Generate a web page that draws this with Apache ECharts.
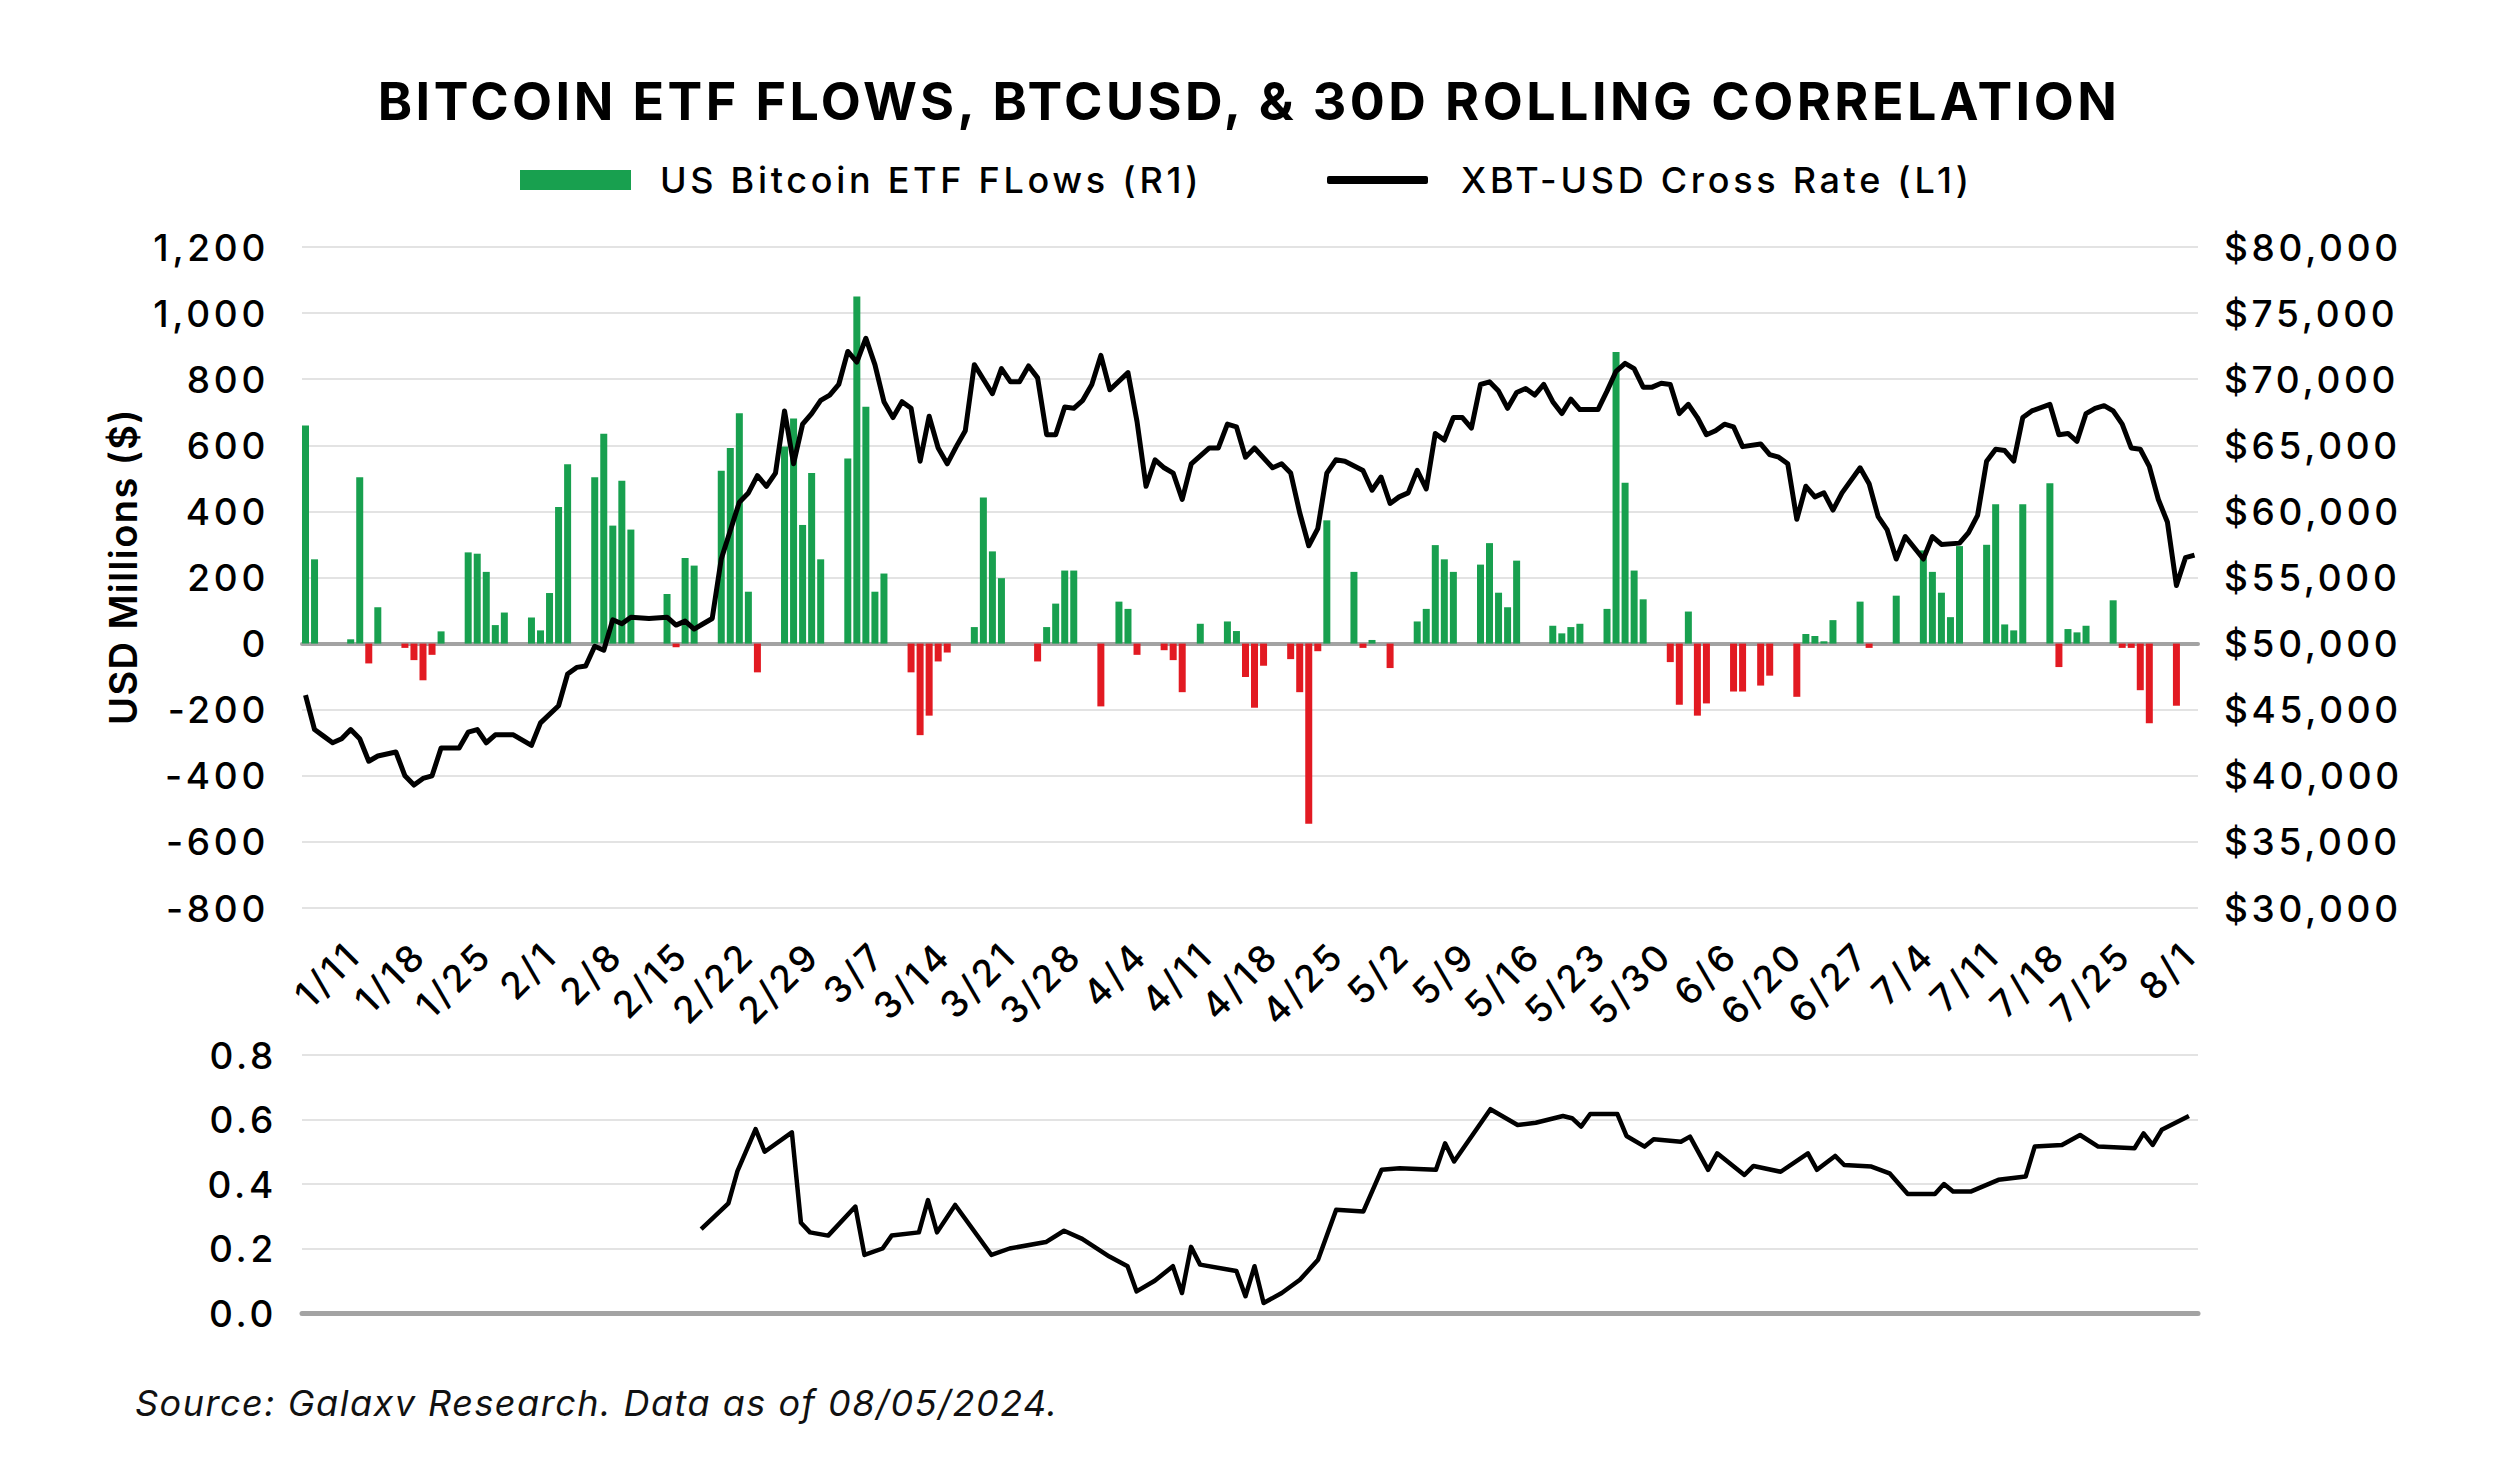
<!DOCTYPE html>
<html><head><meta charset="utf-8">
<script src="https://cdn.jsdelivr.net/npm/echarts/dist/echarts.min.js"></script>
<style>
html,body{margin:0;padding:0;background:#fff}
#c{width:2498px;height:1477px}
#c text{letter-spacing:3.7px}
#c text[style*="52px"]{letter-spacing:3.45px}
#c text[style*="italic"]{letter-spacing:1.5px}
#c text[style*="38px"]{letter-spacing:1.4px}
</style>
</head><body><div id="c"></div>
<script>
// ---------- DATA ----------
const flowDates = ['1/11','1/12','1/16','1/17','1/18','1/19','1/22','1/23','1/24','1/25','1/26','1/29','1/30','1/31','2/1','2/2','2/5','2/6','2/7','2/8','2/9','2/12','2/13','2/14','2/15','2/16','2/20','2/21','2/22','2/23','2/26','2/27','2/28','2/29','3/1','3/4','3/5','3/6','3/7','3/8','3/11','3/12','3/13','3/14','3/15','3/18','3/19','3/20','3/21','3/22','3/25','3/26','3/27','3/28','4/1','4/2','4/3','4/4','4/5','4/8','4/10','4/11','4/12','4/15','4/16','4/17','4/19','4/22','4/23','4/24','4/25','4/26','4/29','4/30','5/1','5/2','5/3','5/6','5/7','5/8','5/10','5/13','5/14','5/15','5/16','5/17','5/20','5/21','5/22','5/23','5/24','5/28','5/29','5/30','5/31','6/3','6/4','6/5','6/6','6/7','6/10','6/11','6/12','6/13','6/14','6/17','6/18','6/20','6/21','6/24','6/25','6/26','6/27','6/28','7/1','7/2','7/5','7/8','7/9','7/10','7/11','7/12','7/15','7/16','7/17','7/18','7/19','7/22','7/23','7/24','7/25','7/26','7/29','7/30','7/31','8/1','8/2','8/5'];
const flowValues = [660,255,13,503,-60,110,-13,-50,-111,-34,37,276,272,217,56,94,79,40,153,413,543,503,635,357,493,345,150,-11,259,236,523,592,697,157,-87,596,681,359,516,255,560,1050,717,157,212,-87,-277,-218,-54,-27,50,442,279,198,-54,50,121,221,221,-190,127,105,-34,-20,-50,-147,60,67,38,-101,-194,-67,-47,-147,-545,-23,373,217,-13,11,-74,67,105,298,255,217,239,304,154,110,251,54,31,50,60,105,882,487,221,134,-56,-185,97,-218,-181,-145,-145,-127,-97,-161,29,23,7,71,127,-13,145,282,217,154,80,295,299,422,58,40,422,485,-71,44,34,54,131,-13,-13,-141,-241,-188];

const priceDates = ['1/11','1/12','1/13','1/14','1/15','1/16','1/17','1/18','1/19','1/21','1/22','1/23','1/24','1/25','1/26','1/28','1/29','1/30','1/31','2/1','2/3','2/5','2/6','2/8','2/9','2/10','2/11','2/12','2/13','2/14','2/15','2/16','2/18','2/20','2/21','2/22','2/23','2/24','2/25','2/26','2/28','2/29','3/1','3/2','3/3','3/4','3/5','3/6','3/7','3/8','3/9','3/10','3/11','3/12','3/13','3/14','3/15','3/16','3/17','3/18','3/19','3/20','3/21','3/22','3/23','3/24','3/25','3/26','3/27','3/28','3/29','3/30','3/31','4/1','4/2','4/3','4/4','4/5','4/6','4/7','4/8','4/9','4/11','4/12','4/13','4/14','4/15','4/16','4/17','4/18','4/20','4/21','4/22','4/23','4/24','4/25','4/27','4/28','4/29','4/30','5/1','5/2','5/3','5/4','5/5','5/7','5/8','5/9','5/10','5/11','5/12','5/13','5/14','5/15','5/16','5/17','5/18','5/19','5/20','5/21','5/22','5/23','5/24','5/25','5/26','5/27','5/28','5/29','5/30','5/31','6/2','6/3','6/4','6/5','6/6','6/7','6/8','6/9','6/10','6/11','6/12','6/13','6/14','6/15','6/16','6/17','6/18','6/20','6/21','6/22','6/23','6/24','6/25','6/26','6/27','6/28','6/29','7/1','7/2','7/3','7/4','7/5','7/6','7/8','7/9','7/10','7/12','7/13','7/14','7/15','7/16','7/17','7/18','7/19','7/20','7/22','7/23','7/24','7/25','7/26','7/27','7/28','7/29','7/30','7/31','8/1','8/2','8/3','8/4','8/5','8/6','8/7'];
const priceValues = [46100,43500,43000,42500,42800,43500,42800,41100,41500,41800,40000,39300,39800,40000,42100,42100,43300,43500,42500,43100,43100,42300,44000,45300,47700,48200,48300,49800,49500,51800,51500,52000,51900,52000,51400,51700,51100,51500,51900,56400,60700,61400,62700,61900,62900,67600,63600,66600,67400,68400,68800,69600,72100,71300,73100,71100,68300,67100,68300,67800,63800,67200,64800,63600,64900,66100,71100,70000,68900,70800,69800,69800,71000,70100,65800,65800,67900,67800,68400,69600,71800,69200,70500,66800,61900,63900,63300,62900,60900,63600,64800,64800,66600,66400,64100,64800,63300,63600,62900,59900,57400,58700,62900,63900,63800,63100,61600,62600,60600,61100,61400,63100,61700,65900,65400,67100,67100,66300,69600,69800,69100,67800,69000,69300,68800,69600,68300,67400,68500,67700,67700,69100,70600,71200,70800,69400,69400,69700,69600,67400,68100,67100,65800,66100,66600,66400,64900,65100,64300,64100,63600,59400,61900,61100,61400,60100,61400,63300,62100,59600,58600,56400,58100,56400,58100,57500,57600,58400,59700,63800,64700,64600,63800,67100,67600,68100,65800,65900,65300,67400,67800,68000,67600,66600,64800,64700,63400,60900,59200,54400,56500,56700];

const corrDates = ['2/24','2/27','2/28','3/1','3/2','3/5','3/6','3/7','3/9','3/12','3/13','3/15','3/16','3/19','3/20','3/21','3/23','3/27','3/29','4/2','4/4','4/6','4/9','4/11','4/12','4/14','4/16','4/17','4/18','4/19','4/23','4/24','4/25','4/26','4/28','4/30','5/2','5/4','5/7','5/9','5/11','5/15','5/16','5/17','5/21','5/24','5/26','5/29','5/30','5/31','6/1','6/4','6/5','6/7','6/8','6/11','6/12','6/14','6/15','6/18','6/19','6/22','6/25','6/26','6/28','6/29','7/2','7/4','7/6','7/9','7/10','7/11','7/13','7/16','7/19','7/20','7/23','7/25','7/27','7/31','8/1','8/2','8/3','8/6'];
const corrValues = [0.26,0.34,0.44,0.57,0.50,0.56,0.28,0.25,0.24,0.33,0.18,0.20,0.24,0.25,0.35,0.25,0.335,0.18,0.20,0.22,0.255,0.23,0.175,0.145,0.067,0.10,0.145,0.062,0.205,0.15,0.13,0.052,0.145,0.031,0.062,0.103,0.165,0.32,0.315,0.444,0.449,0.444,0.526,0.47,0.632,0.583,0.59,0.611,0.604,0.578,0.617,0.617,0.549,0.516,0.539,0.531,0.547,0.444,0.495,0.428,0.456,0.438,0.495,0.444,0.487,0.459,0.454,0.433,0.369,0.369,0.40,0.377,0.377,0.413,0.423,0.516,0.521,0.552,0.516,0.511,0.557,0.521,0.568,0.611];

const tickLabels = ['1/11','1/18','1/25','2/1','2/8','2/15','2/22','2/29','3/7','3/14','3/21','3/28','4/4','4/11','4/18','4/25','5/2','5/9','5/16','5/23','5/30','6/6','6/20','6/27','7/4','7/11','7/18','7/25','8/1'];

const YEAR = 2024;
const AXIS_START = '1/11', AXIS_END = '8/7';
const titleText = 'BITCOIN ETF FLOWS, BTCUSD, & 30D ROLLING CORRELATION';
const flowName = 'US Bitcoin ETF FLows (R1)';
const priceName = 'XBT-USD Cross Rate (L1)';
const sourceText = 'Source: Galaxv Research. Data as of 08/05/2024.';

// ---------- CHART ----------
function toTime(s){const [m,d]=s.split('/').map(Number);return new Date(YEAR,m-1,d).getTime();}
const GREEN='#18a04f', RED='#e21a22', FONT='Inter, Roboto, "Liberation Sans", sans-serif';
const flowData = flowDates.map((d,i)=>[toTime(d),flowValues[i]]);
const priceData = priceDates.map((d,i)=>[toTime(d),priceValues[i]]);
const corrData = corrDates.map((d,i)=>[toTime(d),corrValues[i]]);
const fmt = v => v.toLocaleString('en-US');
const labelStyle = {color:'#000',fontFamily:FONT,fontSize:37,fontWeight:500};
const gridLine = {show:true,lineStyle:{color:'#e3e3e3',width:2}};

const chart = echarts.init(document.getElementById('c'),null,{renderer:'svg'});
chart.setOption({
  backgroundColor:'#fff',
  animation:false,
  title:[
    {text:titleText,left:'center',top:70,textStyle:{fontFamily:FONT,fontSize:52,fontWeight:700,color:'#000'}},
    {text:sourceText,left:130,top:1380,textStyle:{fontFamily:FONT,fontSize:36,fontStyle:'italic',fontWeight:400,color:'#111'}}
  ],
  legend:[
    {data:[{name:flowName,icon:'rect',itemStyle:{color:GREEN}}],left:515,top:157,itemWidth:111,itemHeight:20,
     textStyle:{fontFamily:FONT,fontSize:36,fontWeight:500,color:'#000',padding:[0,0,0,24]},selectedMode:false},
    {data:[{name:priceName,icon:'roundRect',itemStyle:{color:'#000'}}],left:1322,top:157,itemWidth:101,itemHeight:8,
     textStyle:{fontFamily:FONT,fontSize:36,fontWeight:500,color:'#000',padding:[0,0,0,28]},selectedMode:false}
  ],
  grid:[
    {left:302,top:247,width:1896,height:661,containLabel:false,outerBoundsMode:'none'},
    {left:302,top:1055,width:1896,height:258,containLabel:false,outerBoundsMode:'none'},
    {left:354,top:247,width:1836,height:661,containLabel:false,outerBoundsMode:'none'}
  ],
  xAxis:[
    {type:'time',gridIndex:0,min:toTime(AXIS_START),max:toTime(AXIS_END),
     axisLine:{show:true,onZero:true,onZeroAxisIndex:0,lineStyle:{color:'#a3a3a3',width:4}},
     axisTick:{show:false},axisLabel:{show:false},splitLine:{show:false}},
    {type:'time',gridIndex:1,min:toTime(AXIS_START),max:toTime(AXIS_END),
     axisLine:{show:true,lineStyle:{color:'#a3a3a3',width:5}},
     axisTick:{show:false},axisLabel:{show:false},splitLine:{show:false}},
    {type:'category',gridIndex:2,data:tickLabels,boundaryGap:false,position:'bottom',
     axisLine:{show:false},axisTick:{show:false},splitLine:{show:false},
     axisLabel:Object.assign({interval:0,rotate:45,margin:40},labelStyle)}
  ],
  yAxis:[
    {type:'value',gridIndex:0,position:'left',min:-800,max:1200,interval:200,
     name:'USD Millions ($)',nameLocation:'middle',nameRotate:90,nameGap:160,
     nameTextStyle:{fontFamily:FONT,fontSize:38,fontWeight:600,color:'#000',padding:[0,0,0,22]},
     axisLine:{show:false},axisTick:{show:false},
     axisLabel:Object.assign({margin:33,formatter:fmt},labelStyle),splitLine:gridLine},
    {type:'value',gridIndex:0,position:'right',min:30000,max:80000,interval:5000,
     axisLine:{show:false},axisTick:{show:false},
     axisLabel:Object.assign({margin:26,formatter:v=>'$'+fmt(v)},labelStyle),splitLine:{show:false}},
    {type:'value',gridIndex:1,min:0,max:0.8,interval:0.2,
     axisLine:{show:false},axisTick:{show:false},
     axisLabel:Object.assign({margin:25,formatter:v=>v.toFixed(1)},labelStyle),splitLine:gridLine},
    {type:'value',gridIndex:2,show:false,min:0,max:1}
  ],
  series:[
    {name:flowName,type:'bar',xAxisIndex:0,yAxisIndex:0,data:flowData,barWidth:7,z:2,
     itemStyle:{color:p=>p.value[1]>=0?GREEN:RED}},
    {name:priceName,type:'line',xAxisIndex:0,yAxisIndex:1,data:priceData,showSymbol:false,z:5,
     lineStyle:{color:'#000',width:5,join:'round'},itemStyle:{color:'#000'}},
    {name:'30D Rolling Correlation',type:'line',xAxisIndex:1,yAxisIndex:2,data:corrData,showSymbol:false,z:5,
     lineStyle:{color:'#000',width:4.5,join:'round'},itemStyle:{color:'#000'}}
  ]
});
</script></body></html>
